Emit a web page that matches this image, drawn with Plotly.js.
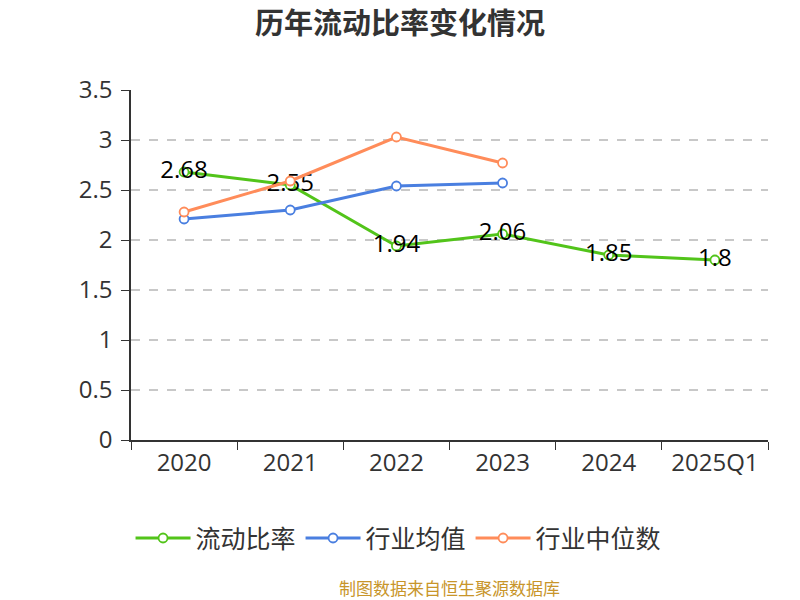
<!DOCTYPE html>
<html><head><meta charset="utf-8">
<script src="https://cdn.plot.ly/plotly-3.0.1.min.js"></script>
<style>body{margin:0;background:#fff}#c{width:800px;height:600px}</style>
</head><body><div id="c"></div>
<script>
const categories = ['2020','2021','2022','2023','2024','2025Q1'];
const currentRatio = [2.68, 2.55, 1.94, 2.06, 1.85, 1.8];
const industryMean = [2.21, 2.30, 2.54, 2.57];
const industryMedian = [2.28, 2.59, 3.03, 2.77];
const yTicks = [0, 0.5, 1, 1.5, 2, 2.5, 3, 3.5];

const font = "'Open Sans', 'Noto Sans CJK SC', sans-serif";
const cjk = "'Noto Sans CJK SC', sans-serif";
const mk = c => ({size: 9, color: '#fff', line: {color: c, width: 1.8}});

const traces = [
  {x: categories, y: currentRatio, name: '流动比率', type: 'scatter', mode: 'lines+markers+text',
   line: {color: '#52c41a', width: 3}, marker: mk('#52c41a'),
   text: currentRatio.map(String), textposition: 'middle center',
   textfont: {size: 24, color: '#000', family: font}, cliponaxis: false},
  {x: categories.slice(0, industryMean.length), y: industryMean, name: '行业均值', type: 'scatter', mode: 'lines+markers',
   line: {color: '#4a7fe0', width: 3}, marker: mk('#4a7fe0')},
  {x: categories.slice(0, industryMedian.length), y: industryMedian, name: '行业中位数', type: 'scatter', mode: 'lines+markers',
   line: {color: '#ff8c5a', width: 3}, marker: mk('#ff8c5a')}
];

const layout = {
  width: 800, height: 600,
  margin: {l: 131, r: 32, t: 90, b: 160},
  paper_bgcolor: '#fff', plot_bgcolor: '#fff',
  font: {family: font, color: '#333'},
  title: {text: '<b>历年流动比率变化情况</b>', x: 0.5, xanchor: 'center', y: 0.96, yanchor: 'middle',
          font: {size: 29, color: '#333', family: cjk}},
  xaxis: {type: 'category', categoryorder: 'array', categoryarray: categories,
          range: [-0.5, categories.length - 0.5],
          showline: true, linecolor: '#333', linewidth: 1.5,
          ticks: 'outside', tickson: 'boundaries', ticklen: 8, tickcolor: '#333',
          showgrid: false, tickfont: {size: 24, color: '#333'}, zeroline: false},
  yaxis: {range: [0, 3.5], tickvals: yTicks, ticktext: yTicks.map(String),
          showline: true, linecolor: '#333', linewidth: 1.5,
          ticks: 'outside', ticklen: 8, tickcolor: '#333', ticklabelstandoff: 4,
          showgrid: true, gridcolor: '#c8c8c8', griddash: 'dash', gridwidth: 1.5,
          zeroline: false, tickfont: {size: 24, color: '#333'}},
  legend: {orientation: 'h', x: 0.42, xanchor: 'center', y: -0.215, yanchor: 'top',
           font: {size: 25, color: '#333', family: cjk}, itemwidth: 55},
  showlegend: true,
  annotations: [{text: '制图数据来自恒生聚源数据库', xref: 'paper', yref: 'paper', x: 0.5, y: -0.42,
                 xanchor: 'center', yanchor: 'middle', showarrow: false,
                 font: {size: 17, color: '#c8952a', family: cjk}}]
};
Plotly.newPlot('c', traces, layout, {displayModeBar: false});
</script></body></html>
